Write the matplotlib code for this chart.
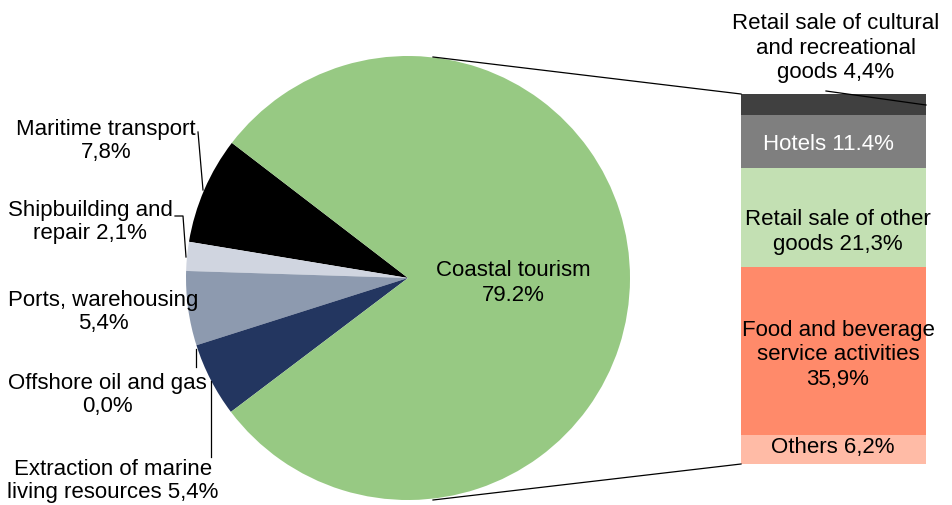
import numpy as np
import matplotlib
matplotlib.use('Agg')
import matplotlib.pyplot as plt

plt.rcParams['font.family'] = ['Liberation Sans', 'DejaVu Sans']

# pie data (share of total, %)
pie_labels = ['Maritime transport\n7,8%', 'Shipbuilding and\nrepair 2,1%',
              'Ports, warehousing\n5,4%', 'Offshore oil and gas\n0,0%',
              'Extraction of marine\nliving resources 5,4%', 'Coastal tourism\n79.2%']
pie_values = [7.8, 2.1, 5.4, 0.0, 5.4, 79.2]
pie_colors = ['#000000', '#D0D5E0', '#8D9AAF', '#FFFFFF', '#233660', '#97C983']

# breakdown of coastal tourism (top to bottom)
bar_labels = ['Retail sale of cultural\nand recreational\ngoods 4,4%', 'Hotels 11.4%',
              'Retail sale of other\ngoods 21,3%',
              'Food and beverage\nservice activities\n35,9%', 'Others 6,2%']
bar_values = [4.4, 11.4, 21.3, 35.9, 6.2]
bar_colors = ['#404040', '#7F7F7F', '#C3E0B3', '#FF8A6A', '#FFBBA6']

W, H = 953, 505
fig = plt.figure(figsize=(W / 100, H / 100), dpi=100)
ax = fig.add_axes([0, 0, 1, 1])

# pie, centre/radius in pixel units (y up)
cx, cy, r = 408, H - 278, 222
wedges, _ = ax.pie(pie_values, colors=pie_colors, startangle=142.5, counterclock=True,
                   center=(cx, cy), radius=r, wedgeprops=dict(linewidth=0))

# stacked bar for coastal tourism
bx, bw = 741, 185
scale = 370 / sum(bar_values)
bottom = H - 464
for val, col in zip(bar_values[::-1], bar_colors[::-1]):
    ax.bar(bx + bw / 2, val * scale, width=bw, bottom=bottom, color=col, linewidth=0)
    bottom += val * scale
bar_top = bottom
bar_bot = H - 464

# connector lines pie -> bar
ax.plot([433, bx], [H - 57, bar_top], color='black', lw=0.9)
ax.plot([433, bx], [H - 500, bar_bot], color='black', lw=0.9)

fs = 16
# pie labels
ax.text(513, H - 283, pie_labels[5], ha='center', va='center', fontsize=fs, linespacing=1.2)
pie_pos = [(106, 141), (90, 222), (103, 312), (107, 395), (113, 481)]
for lab, (x, y) in zip(pie_labels[:5], pie_pos):
    ax.text(x, H - y, lab, ha='center', va='center', fontsize=fs, linespacing=1.15)

# leader lines for small slices
lk = dict(color='black', lw=0.9)
ax.plot([198, 203], [H - 132, H - 190], **lk)
ax.plot([175, 183, 186], [H - 216, H - 216, H - 257], **lk)
ax.plot([196, 196], [H - 349, H - 367], **lk)
ax.plot([211, 211], [H - 381, H - 457], **lk)

# bar labels
bar_pos = [(836, 48), (828, 144), (838, 232), (838, 355), (833, 448)]
for i, (lab, (x, y)) in enumerate(zip(bar_labels, bar_pos)):
    ax.text(x, H - y, lab, ha='center', va='center', fontsize=fs, linespacing=1.2,
            color='white' if i == 1 else 'black')
ax.plot([826, 926], [H - 91, H - 105], **lk)

ax.set_xlim(0, W)
ax.set_ylim(0, H)
ax.set_aspect('auto')
ax.axis('off')

fig.savefig('out.png', dpi=100)
